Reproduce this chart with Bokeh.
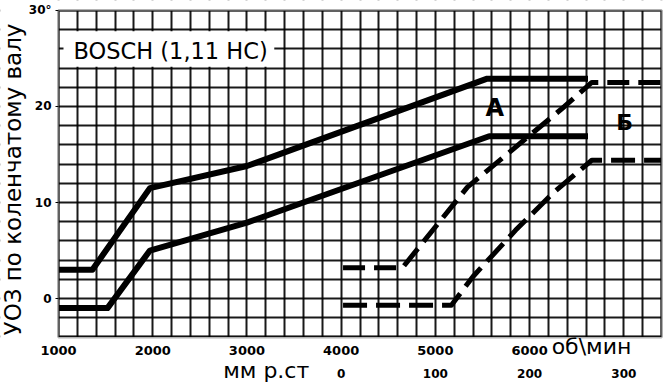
import math
from bokeh.plotting import figure
from bokeh.models import LinearAxis, FixedTicker, Label, BoxAnnotation, Range1d
from bokeh.embed import file_html
from bokeh.resources import INLINE

# --- data (rpm, degrees of ignition advance) ---
a_upper_rpm = [1000, 1360, 1970, 3000, 5550, 6620]
a_upper_deg = [3.0, 3.0, 11.5, 13.8, 22.9, 22.9]

a_lower_rpm = [1000, 1520, 1970, 3000, 5570, 6620]
a_lower_deg = [-1.0, -1.0, 5.0, 7.9, 16.9, 16.9]

b_upper_rpm = [4020, 4650, 5340, 6370, 6660, 7400]
b_upper_deg = [3.2, 3.2, 11.6, 20.0, 22.5, 22.5]

b_lower_rpm = [4020, 5170, 5400, 5850, 6250, 6660, 7400]
b_lower_deg = [-0.7, -0.7, 2.3, 7.1, 11.0, 14.4, 14.4]

rpm_ticks = [1000, 2000, 3000, 4000, 5000, 6000]
deg_ticks = [0, 10, 20, 30]
deg_labels = {0: "0", 10: "10", 20: "20", 30: "30°"}
vac_ticks = [4000, 5000, 6000, 7000]
vac_labels = {4000: "0", 5000: "100", 6000: "200", 7000: "300"}

X0, X1 = 1000, 7400      # chart box
Y0, Y1 = -4, 30

p = figure(width=670, height=385,
           x_range=Range1d(384.4, 7495.4), y_range=Range1d(-9.06, 31.04),
           output_backend="svg", toolbar_location=None,
           min_border_left=0, min_border_right=0,
           min_border_top=0, min_border_bottom=0)
p.background_fill_color = "white"
p.border_fill_color = "white"
p.outline_line_color = None

# grid
p.xgrid.ticker = FixedTicker(ticks=list(range(X0, X1 + 1, 200)))
p.ygrid.ticker = FixedTicker(ticks=list(range(Y0, Y1 + 1, 2)))
for g in (p.xgrid, p.ygrid):
    g.grid_line_color = "black"
    g.grid_line_width = 2
    g.grid_line_alpha = 0.9

# white areas outside the chart box (hide the grid there)
for kw in (dict(right=X0), dict(left=X1), dict(top=Y0), dict(bottom=Y1)):
    p.add_layout(BoxAnnotation(fill_color="white", fill_alpha=1,
                               line_color=None, level="glyph", **kw))

# x axis (rpm)
xa = p.xaxis[0]
xa.fixed_location = Y0
xa.ticker = FixedTicker(ticks=rpm_ticks)
xa.axis_line_color = None
xa.major_tick_line_color = None
xa.minor_tick_line_color = None
xa.major_label_standoff = 3
xa.major_label_text_font = "DejaVu Sans"
xa.major_label_text_font_style = "bold"
xa.major_label_text_font_size = "13px"
xa.major_label_text_color = "black"

# second axis (vacuum, mm Hg)
va = LinearAxis(ticker=FixedTicker(ticks=vac_ticks),
                major_label_overrides=vac_labels, fixed_location=-6.6)
va.axis_line_color = None
va.major_tick_line_color = None
va.minor_tick_line_color = None
va.major_label_standoff = 1
va.major_label_text_font = "DejaVu Sans"
va.major_label_text_font_style = "bold"
va.major_label_text_font_size = "12px"
va.major_label_text_color = "black"
p.add_layout(va, "below")

# y axis
ya = p.yaxis[0]
ya.fixed_location = X0
ya.ticker = FixedTicker(ticks=deg_ticks)
ya.major_label_overrides = deg_labels
ya.axis_line_color = None
ya.minor_tick_line_color = None
ya.major_tick_in = 0
ya.major_tick_out = 3
ya.major_tick_line_color = "black"
ya.major_label_standoff = 4
ya.major_label_text_font = "DejaVu Sans"
ya.major_label_text_font_style = "bold"
ya.major_label_text_font_size = "12px"
ya.major_label_text_color = "black"

# curves
p.line(a_upper_rpm, a_upper_deg, line_color="black", line_width=6, line_join="round")
p.line(a_lower_rpm, a_lower_deg, line_color="black", line_width=6, line_join="round")
p.line(b_upper_rpm, b_upper_deg, line_color="black", line_width=5,
       line_dash="22 9", line_join="round")
p.line(b_lower_rpm, b_lower_deg, line_color="black", line_width=5,
       line_dash="24 9", line_join="round")

# chart frame
p.add_layout(BoxAnnotation(left=X0, right=X1, bottom=Y0, top=Y1,
                           fill_alpha=0, line_color="black", line_width=3))

# title box
p.add_layout(BoxAnnotation(left=1053, right=3290, bottom=24.15, top=27.85,
                           fill_color="white", fill_alpha=1, line_color=None))
p.add_layout(Label(x=1159, y=25.8, text="BOSCH (1,11 HC)",
                   text_font="DejaVu Sans", text_font_size="22.5px",
                   text_baseline="middle", text_align="left", text_color="black"))

# series labels
p.add_layout(Label(x=5630, y=19.8, text="А", text_font="DejaVu Sans",
                   text_font_style="bold", text_font_size="24px",
                   text_align="center", text_baseline="middle", text_color="black"))
p.add_layout(Label(x=7008, y=18.3, text="Б", text_font="DejaVu Sans",
                   text_font_style="bold", text_font_size="22px",
                   text_align="center", text_baseline="middle", text_color="black"))

# unit labels
p.add_layout(Label(x=6234, y=-5.0, text="об\\мин", text_font="DejaVu Sans",
                   text_font_size="22px", text_align="left",
                   text_baseline="middle", text_color="black"))
p.add_layout(Label(x=2748, y=-7.5, text="мм р.ст", text_font="DejaVu Sans",
                   text_font_size="22px", text_align="left",
                   text_baseline="middle", text_color="black"))

# y axis title
p.add_layout(Label(x=522, y=12.4, text="УОЗ по коленчатому валу",
                   text_font="DejaVu Sans", text_font_size="23px",
                   angle=math.pi / 2, text_align="center",
                   text_baseline="middle", text_color="black"))

open("out.html", "w").write(file_html(p, INLINE))
